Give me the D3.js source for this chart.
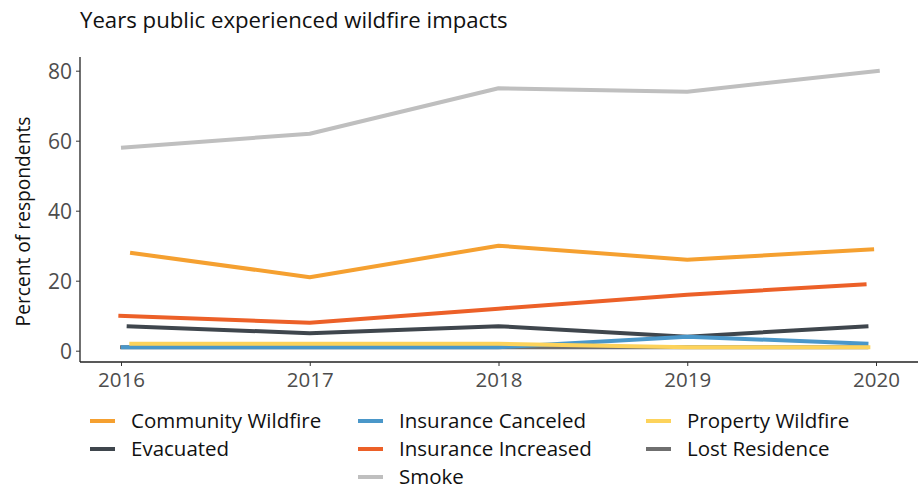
<!DOCTYPE html>
<html><head><meta charset="utf-8">
<script src="https://cdn.jsdelivr.net/npm/d3@7"></script>
<style>body{margin:0;background:#fff;}svg{display:block;font-family:"Open Sans",sans-serif;}</style>
</head><body>
<svg id="c" width="921" height="491"></svg>
<script>
const years = [2016, 2017, 2018, 2019, 2020];
const seriesNames = ["Smoke", "Community Wildfire", "Insurance Increased", "Evacuated", "Lost Residence", "Insurance Canceled", "Property Wildfire"];
const smoke = [58, 62, 75, 74, 80];
const communityWildfire = [28, 21, 30, 26, 29];
const insuranceIncreased = [10, 8, 12, 16, 19];
const evacuated = [7, 5, 7, 4, 7];
const lostResidence = [1, 1, 1, 1, 1];
const insuranceCanceled = [1, 1, 1, 4, 2];
const propertyWildfire = [2, 2, 2, 1, 1];
// where each drawn line begins and ends on the year axis
const lineStart = [2016.0, 2016.048, 2015.986, 2016.03, 2015.995, 2016.0, 2016.044];
const lineEnd = [2020.02, 2019.99, 2019.95, 2019.96, 2019.96, 2019.96, 2019.97];
const yTicks = [0, 20, 40, 60, 80];
const colors = {
  "Community Wildfire": "#f5a030",
  "Evacuated": "#3f464d",
  "Insurance Canceled": "#4a97c9",
  "Insurance Increased": "#ec6028",
  "Smoke": "#bfbfbf",
  "Property Wildfire": "#fdd35b",
  "Lost Residence": "#6f6f6f"
};
const legendCols = [["Community Wildfire", "Evacuated"], ["Insurance Canceled", "Insurance Increased", "Smoke"], ["Property Wildfire", "Lost Residence"]];
const values = {
  "Smoke": smoke, "Community Wildfire": communityWildfire, "Insurance Increased": insuranceIncreased,
  "Evacuated": evacuated, "Lost Residence": lostResidence, "Insurance Canceled": insuranceCanceled,
  "Property Wildfire": propertyWildfire
};

const svg = d3.select("#c");
const x = d3.scaleLinear().domain([2016, 2020]).range([121, 876]);
const y = d3.scaleLinear().domain([0, 80]).range([350.7, 70.7]);

svg.append("text").attr("x", 80).attr("y", 28).attr("font-size", 22.2).attr("fill", "#111")
  .text("Years public experienced wildfire impacts");

// y axis
const ya = svg.append("g").attr("transform", "translate(80,0)")
  .call(d3.axisLeft(y).tickValues(yTicks).tickSize(4).tickPadding(4).tickFormat(d3.format("d")));
ya.select(".domain").attr("d", "M0,57V362").attr("stroke", "#222").attr("stroke-width", 1.3);
ya.selectAll(".tick line").attr("stroke", "#333");
ya.selectAll(".tick text").attr("font-size", 21).attr("fill", "#4d4d4d").attr("font-family", "Open Sans").attr("dy", "0.35em");

// x axis
const xa = svg.append("g").attr("transform", "translate(0,362)")
  .call(d3.axisBottom(x).tickValues(years).tickSize(4).tickPadding(6).tickFormat(d3.format("d")));
xa.select(".domain").attr("d", "M80,0H918").attr("stroke", "#222").attr("stroke-width", 1.3);
xa.selectAll(".tick line").attr("stroke", "#333");
xa.selectAll(".tick text").attr("font-size", 20.5).attr("fill", "#4d4d4d").attr("font-family", "Open Sans").attr("dy", "0.75em");

svg.append("text").attr("transform", "translate(30,221.5) rotate(-90)").attr("text-anchor", "middle")
  .attr("font-size", 19.2).attr("fill", "#111").text("Percent of respondents");

seriesNames.forEach((name, si) => {
  const n = values[name].length;
  const xs = years.map((yr, i) => i === 0 ? lineStart[si] : (i === n - 1 ? lineEnd[si] : yr));
  const line = d3.line().x((d, i) => x(xs[i])).y(d => y(d));
  svg.append("path").datum(values[name]).attr("d", line).attr("fill", "none")
    .attr("stroke", colors[name]).attr("stroke-width", 4).attr("stroke-linejoin", "round");
});

// legend
const colX = [90, 358, 646];
const rowY = [421, 449, 477];
legendCols.forEach((col, ci) => {
  col.forEach((name, ri) => {
    const g = svg.append("g").attr("transform", `translate(${colX[ci]},${rowY[ri]})`);
    g.append("line").attr("x1", 0).attr("x2", 25).attr("y1", 0).attr("y2", 0)
      .attr("stroke", colors[name]).attr("stroke-width", 4);
    g.append("text").attr("x", 41).attr("y", 0).attr("dy", "0.35em").attr("font-size", 20.5)
      .attr("fill", "#111").text(name);
  });
});
</script>
</body></html>
